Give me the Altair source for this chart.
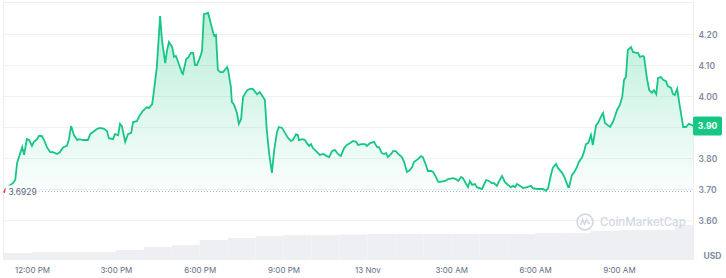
import json
import altair as alt
import pandas as pd

# ---- data (minutes after 11:00 AM, 12 Nov; price in USD) ----
minutes = [
    0, 4, 19, 24, 28, 32, 39, 43, 49, 54,
    60, 64, 71, 75, 81, 86, 92, 99, 105, 114,
    120, 127, 135, 139, 144, 150, 157, 161, 170, 176,
    180, 185, 191, 200, 206, 215, 221, 225, 234, 238,
    245, 249, 253, 260, 266, 273, 277, 285, 292, 298,
    307, 311, 318, 322, 328, 335, 339, 346, 350, 354,
    361, 365, 369, 376, 382, 384, 391, 395, 401, 406,
    410, 414, 421, 425, 429, 438, 442, 449, 451, 455,
    459, 464, 470, 479, 481, 487, 489, 494, 500, 504,
    509, 513, 522, 528, 534, 543, 549, 556, 560, 564,
    569, 575, 580, 586, 590, 597, 603, 610, 616, 620,
    627, 631, 633, 640, 646, 650, 655, 659, 663, 672,
    678, 685, 693, 698, 704, 710, 717, 723, 730, 736,
    743, 749, 756, 760, 768, 775, 779, 786, 794, 801,
    805, 811, 816, 820, 824, 831, 835, 841, 846, 854,
    859, 865, 871, 876, 880, 889, 895, 899, 904, 910,
    917, 921, 927, 932, 936, 947, 953, 964, 970, 975,
    981, 985, 992, 996, 1000, 1005, 1011, 1015, 1026, 1030,
    1035, 1041, 1047, 1052, 1058, 1062, 1069, 1075, 1082, 1088,
    1093, 1097, 1101, 1108, 1114, 1123, 1131, 1135, 1144, 1151,
    1157, 1163, 1168, 1174, 1178, 1185, 1189, 1198, 1204, 1211,
    1213, 1219, 1223, 1230, 1234, 1241, 1245, 1249, 1254, 1260,
    1264, 1271, 1275, 1281, 1286, 1290, 1296, 1301, 1307, 1311,
    1316, 1322, 1327, 1331, 1335, 1339, 1346, 1350, 1357, 1361,
    1365, 1372, 1374, 1380, 1385, 1391, 1395, 1400, 1404, 1410,
    1415, 1421, 1425, 1432, 1436, 1440, 1445, 1451, 1458, 1464,
    1470, 1477, 1479,
]
prices = [
    3.689, 3.704, 3.720, 3.730, 3.785, 3.804, 3.836, 3.811, 3.862, 3.859,
    3.840, 3.853, 3.862, 3.872, 3.872, 3.859, 3.836, 3.820, 3.820, 3.814,
    3.820, 3.836, 3.840, 3.859, 3.904, 3.875, 3.859, 3.862, 3.859, 3.859,
    3.859, 3.878, 3.885, 3.895, 3.898, 3.895, 3.888, 3.865, 3.862, 3.878,
    3.875, 3.911, 3.904, 3.853, 3.878, 3.882, 3.917, 3.920, 3.940, 3.953,
    3.965, 3.962, 3.975, 4.020, 4.094, 4.259, 4.182, 4.107, 4.149, 4.175,
    4.159, 4.127, 4.130, 4.101, 4.075, 4.072, 4.120, 4.124, 4.140, 4.140,
    4.101, 4.101, 4.127, 4.146, 4.265, 4.269, 4.246, 4.204, 4.195, 4.198,
    4.085, 4.078, 4.078, 4.094, 4.085, 4.030, 3.982, 3.972, 3.946, 3.911,
    3.927, 3.998, 4.020, 4.024, 4.024, 4.007, 4.014, 3.998, 3.988, 3.891,
    3.817, 3.753, 3.827, 3.885, 3.901, 3.898, 3.882, 3.865, 3.856, 3.859,
    3.878, 3.875, 3.859, 3.862, 3.859, 3.849, 3.840, 3.846, 3.833, 3.820,
    3.811, 3.814, 3.807, 3.804, 3.823, 3.827, 3.814, 3.807, 3.833, 3.843,
    3.849, 3.856, 3.853, 3.843, 3.846, 3.846, 3.840, 3.849, 3.853, 3.836,
    3.836, 3.817, 3.814, 3.817, 3.804, 3.814, 3.823, 3.823, 3.814, 3.804,
    3.788, 3.756, 3.762, 3.772, 3.788, 3.798, 3.807, 3.804, 3.785, 3.759,
    3.759, 3.756, 3.740, 3.724, 3.724, 3.727, 3.733, 3.736, 3.733, 3.727,
    3.740, 3.736, 3.717, 3.707, 3.727, 3.714, 3.717, 3.707, 3.701, 3.714,
    3.730, 3.727, 3.720, 3.720, 3.711, 3.724, 3.743, 3.724, 3.714, 3.707,
    3.711, 3.707, 3.717, 3.711, 3.704, 3.707, 3.711, 3.704, 3.701, 3.701,
    3.701, 3.695, 3.704, 3.746, 3.769, 3.782, 3.769, 3.753, 3.736, 3.707,
    3.707, 3.746, 3.753, 3.772, 3.788, 3.804, 3.820, 3.846, 3.849, 3.875,
    3.843, 3.907, 3.914, 3.933, 3.946, 3.914, 3.907, 3.901, 3.917, 3.933,
    3.956, 3.972, 3.998, 4.053, 4.062, 4.149, 4.159, 4.143, 4.140, 4.140,
    4.127, 4.130, 4.127, 4.059, 4.020, 4.011, 4.020, 4.007, 4.059, 4.062,
    4.053, 4.049, 4.033, 4.027, 4.007, 4.004, 4.024, 3.965, 3.901, 3.901,
    3.911, 3.907, 3.904,
]
assert len(minutes) == len(prices), (len(minutes), len(prices))

# hourly volume buckets (relative units)
vol_start = [0, 60, 120, 180, 240, 300, 360, 420, 480, 540, 600, 660, 720,
             780, 840, 900, 960, 1020, 1080, 1140, 1200, 1260, 1320, 1380, 1440]
vol_values = [23, 27, 27, 27, 35, 47, 54, 74, 82, 89, 93, 93, 95,
              97, 97, 97, 97, 97, 97, 101, 101, 109, 113, 113, 132]

base_price = 3.6929
base_label = "3.6929"
last_label = "3.90"
tick_minutes = [60, 240, 420, 600, 780, 960, 1140, 1320]
tick_labels = ["12:00 PM", "3:00 PM", "6:00 PM", "9:00 PM", "13 Nov",
               "3:00 AM", "6:00 AM", "9:00 AM"]
y_ticks = [3.6, 3.7, 3.8, 3.9, 4.0, 4.1, 4.2]

X_DOMAIN = [-2.25, 1479]
Y_DOMAIN = [3.4752, 4.3042]
VOL_DOMAIN = [0, 1000]

GREEN = "#16c784"
RED = "#ea3943"
FONT = "Inter"

price_df = pd.DataFrame({"minute": minutes, "price": prices})
price_df["base"] = base_price
green_df = price_df.iloc[1:]
red_df = price_df.iloc[:2]
vol_df = pd.DataFrame({"start": vol_start, "vol": vol_values})
vol_df["end"] = vol_df["start"].shift(-1).fillna(minutes[-1])

label_expr = json.dumps(tick_labels) + "[round((datum.value - 60) / 180)]"
# the current-price badge replaces the axis label at its own level
y_label_expr = "abs(datum.value - 3.9) < 0.001 ? '' : format(datum.value, '.2f')"

x_enc = alt.X(
    "minute:Q",
    scale=alt.Scale(domain=X_DOMAIN, nice=False, zero=False),
    axis=alt.Axis(values=tick_minutes, labelExpr=label_expr, grid=False,
                  ticks=False, tickSize=0, domain=False, title=None,
                  labelFont=FONT, labelFontSize=8, labelColor="#616e85",
                  labelPadding=7, labelOverlap=False, labelFlush=False),
)
y_scale = alt.Scale(domain=Y_DOMAIN, nice=False, zero=False)
y_enc = alt.Y(
    "price:Q",
    scale=y_scale,
    axis=alt.Axis(orient="right", values=y_ticks, labelExpr=y_label_expr, title=None,
                  grid=True, gridColor="#eff1f4", gridWidth=1,
                  ticks=False, tickSize=0, domain=False,
                  labelFont=FONT, labelFontSize=8.5, labelFontWeight=600,
                  labelColor="#808a9d", labelPadding=5),
)

volume = alt.Chart(vol_df).mark_rect(color="#edeff3").encode(
    x=alt.X("start:Q", scale=alt.Scale(domain=X_DOMAIN, nice=False, zero=False)),
    x2="end:Q",
    y=alt.Y("vol:Q", scale=alt.Scale(domain=VOL_DOMAIN), axis=None),
    y2=alt.datum(0),
)

area = alt.Chart(green_df).mark_area(
    color=alt.Gradient(
        gradient="linear",
        stops=[alt.GradientStop(color="rgba(22,199,132,0.30)", offset=0),
               alt.GradientStop(color="rgba(22,199,132,0.02)", offset=1)],
        x1=1, x2=1, y1=0, y2=1,
    )
).encode(x=x_enc, y=y_enc, y2="base:Q")

base_df = pd.DataFrame({"price": [base_price], "label": [base_label]})
rule = alt.Chart(base_df).mark_rule(color="#a6b0c3", strokeDash=[1, 2], strokeWidth=1).encode(
    y=y_enc, x=alt.value(0), x2=alt.value(690)
)

line = alt.Chart(green_df).mark_line(color=GREEN, strokeWidth=1.8).encode(x=x_enc, y=y_enc)
red_line = alt.Chart(red_df).mark_line(color=RED, strokeWidth=1.8).encode(x=x_enc, y=y_enc)

box_path = "M-1,-0.36L1,-0.36L1,0.36L-1,0.36Z"
label_box = alt.Chart(base_df).mark_point(
    shape=box_path, filled=True, fill="white", opacity=1, size=34 * 34, strokeWidth=0
).encode(x=alt.value(19.5), y=y_enc)
label_text = alt.Chart(base_df).mark_text(
    font=FONT, fontSize=8.5, color="#58667e", align="left", baseline="middle"
).encode(x=alt.value(5.5), y=y_enc, text="label:N")

last_df = pd.DataFrame({"price": [prices[-1]], "label": [last_label]})
badge_path = ("M-0.88,-0.655L0.88,-0.655Q1,-0.655 1,-0.535L1,0.535Q1,0.655 0.88,0.655"
              "L-0.88,0.655Q-1,0.655 -1,0.535L-1,-0.535Q-1,-0.655 -0.88,-0.655Z")
badge = alt.Chart(last_df).mark_point(
    shape=badge_path, filled=True, fill=GREEN, opacity=1, size=29 * 29, strokeWidth=0
).encode(x=alt.value(704.5), y=y_enc)
badge_text = alt.Chart(last_df).mark_text(
    font=FONT, fontSize=8.5, fontWeight="bold", color="white", align="center", baseline="middle"
).encode(x=alt.value(704.5), y=y_enc, text="label:N")

price_layer = alt.layer(area, rule, line, red_line, label_box, label_text, badge, badge_text)

one = pd.DataFrame({"t": ["CoinMarketCap"], "u": ["USD"]})
wm_text = alt.Chart(one).mark_text(
    font=FONT, fontSize=11.5, fontWeight=500, color="#d3d8e1", align="left", baseline="middle"
).encode(x=alt.value(597), y=alt.value(221), text="t:N")
wm_circle = alt.Chart(one).mark_point(
    shape="circle", size=250, filled=False, stroke="#d3d8e1", strokeWidth=1.6, opacity=1
).encode(x=alt.value(582), y=alt.value(220))
wm_wave = alt.Chart(one).mark_point(
    shape="M-0.55,0.35L-0.3,-0.3L-0.05,0.3L0.2,-0.3L0.45,0.2L0.6,0.05",
    size=250, filled=False, stroke="#d3d8e1", strokeWidth=1.5, opacity=1
).encode(x=alt.value(582), y=alt.value(220))
usd = alt.Chart(one).mark_text(
    font=FONT, fontSize=8.5, fontWeight="bold", color="#808a9d", align="center", baseline="middle"
).encode(x=alt.value(709.5), y=alt.value(254), text="u:N")

chart = alt.layer(volume, price_layer, wm_circle, wm_wave, wm_text, usd).resolve_scale(
    y="independent"
).properties(
    width=690,
    height=257,
    autosize=alt.AutoSizeParams(type="none"),
    padding={"left": 3, "top": 2, "right": 33, "bottom": 19},
    background="white",
).configure_view(stroke="#eceef1", strokeWidth=1)

chart.save("out.html", embed_options={"renderer": "svg", "actions": False})
